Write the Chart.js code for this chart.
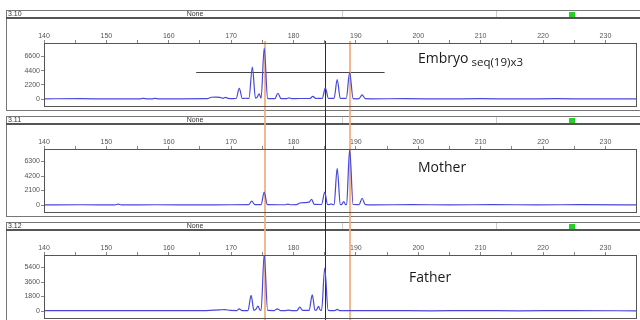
<!DOCTYPE html>
<html>
<head>
<meta charset="utf-8">
<script src="https://cdn.jsdelivr.net/npm/chart.js@4/dist/chart.umd.min.js"></script>
<style>
  body { margin: 0; width: 640px; height: 320px; overflow: hidden; background: #fff; position: relative; }
  canvas { position: absolute; left: 0; }
  .tag { position: absolute; font-family: "Open Sans", "Noto Sans", sans-serif; color: #1a1a1a; font-size: 14px; line-height: 16px; white-space: nowrap; }
  .tag small { font-size: 11.5px; position: relative; top: 3px; margin-left: 3px; }
</style>
</head>
<body>
<canvas id="p1" width="640" height="106" style="top:5px"></canvas>
<canvas id="p2" width="640" height="106" style="top:111px"></canvas>
<canvas id="p3" width="640" height="106" style="top:217px"></canvas>
<div class="tag" style="left:418px;top:50px">Embryo<small>seq(19)x3</small></div>
<div class="tag" style="left:418px;top:159px">Mother</div>
<div class="tag" style="left:409px;top:269px">Father</div>
<script>
// fragment size axis (bp)
const sizeTicks = [140, 145, 150, 155, 160, 165, 170, 175, 180, 185, 190, 195, 200, 205, 210, 215, 220, 225, 230];

// marker lines (bp) and threshold line of the embryo panel
const alleleMarks = [175.4, 189.0];
const refMark = 185.0;
const thresholdSizes = [164.4, 194.6];
const thresholdRfu = 4200;

// 3.10 - Embryo trace
const embryoSizes = [
  140, 146, 150, 155.3, 155.9, 156.5, 157.3, 157.8,
  158.4, 162, 166.2, 166.8, 167.5, 168.2, 168.7, 169.1,
  169.5, 170.4, 170.8, 171.3, 171.8, 172.3, 172.85, 173.4,
  173.9, 174.15, 174.5, 174.8, 175.3, 175.85, 176.3, 177.0,
  177.5, 178.0, 178.9, 179.3, 179.7, 181.0, 182.6, 183.1,
  183.6, 184.1, 184.6, 185.1, 185.6, 186.1, 186.5, 187.0,
  187.5, 188.1, 188.45, 189.0, 189.55, 190.2, 190.5, 191.0,
  191.5, 192.5, 198, 204, 210, 216, 222, 228,
  235
];
const embryoRfu = [
  40, 50, 30, 40, 110, 40, 40, 100,
  40, 40, 60, 280, 300, 260, 120, 260,
  110, 60, 80, 1640, 80, 120, 100, 4950,
  120, 250, 800, 120, 7900, 100, 60, 60,
  900, 60, 50, 180, 50, 80, 80, 400,
  80, 100, 80, 1740, 80, 100, 100, 3030,
  80, 100, 80, 4130, 60, 40, 60, 640,
  60, 40, 50, 30, 50, 30, 50, 30,
  40
];
const embryoTicks = [0, 2200, 4400, 6600];

// 3.11 - Mother trace
const motherSizes = [
  140, 146, 151.4, 151.9, 152.4, 158, 165, 170,
  172.8, 173.3, 173.8, 174.8, 175.3, 175.8, 178.6, 179.1,
  179.6, 180.5, 181.0, 181.8, 182.5, 182.9, 183.3, 184.5,
  185.0, 185.45, 185.7, 186.0, 186.3, 186.5, 187.0, 187.5,
  187.7, 188.05, 188.35, 188.5, 189.0, 189.55, 190.5, 191.0,
  191.5, 193, 199, 205, 212, 219, 226, 235
];
const motherRfu = [
  30, 40, 30, 120, 30, 40, 30, 40,
  50, 560, 50, 60, 1880, 60, 40, 120,
  40, 60, 300, 360, 420, 840, 100, 80,
  1880, 80, 60, 160, 60, 80, 5320, 80,
  60, 500, 60, 80, 8080, 80, 60, 980,
  60, 30, 50, 30, 50, 30, 50, 30
];
const motherTicks = [0, 2100, 4200, 6300];

// 3.12 - Father trace
const fatherSizes = [
  140, 147, 153, 160, 166, 168.2, 169.0, 169.8,
  170.9, 171.3, 171.7, 172.7, 173.2, 173.65, 173.95, 174.3,
  174.6, 174.8, 175.3, 175.85, 176.9, 177.4, 177.9, 178.6,
  179.2, 179.8, 180.55, 181.0, 181.45, 182.5, 183.0, 183.45,
  183.7, 184.0, 184.3, 184.5, 185.0, 185.55, 186.6, 187.0,
  187.4, 189, 195, 202, 209, 216, 224, 235
];
const fatherRfu = [
  40, 60, 40, 50, 60, 150, 180, 80,
  60, 280, 60, 60, 1940, 80, 200, 600,
  150, 80, 7000, 80, 60, 280, 60, 60,
  120, 60, 60, 480, 80, 80, 2000, 80,
  150, 570, 100, 80, 5330, 80, 50, 200,
  50, 40, 50, 30, 50, 30, 50, 30
];
const fatherTicks = [0, 1800, 3600, 5400];

const tickFont = { size: 7, family: '"Liberation Sans", Arial, sans-serif' };

function panelPlugin(cfg) {
  return {
    id: 'panel',
    beforeDraw(chart) {
      const ctx = chart.ctx;
      const w = chart.width, h = chart.height;
      ctx.save();
      // panel box
      ctx.strokeStyle = '#777';
      ctx.lineWidth = 1;
      ctx.beginPath();
      ctx.moveTo(6, 5.5); ctx.lineTo(w, 5.5);
      ctx.moveTo(6.5, 5); ctx.lineTo(6.5, h - 0.5);
      ctx.moveTo(6, h - 0.5); ctx.lineTo(w, h - 0.5);
      ctx.stroke();
      ctx.strokeStyle = '#555';
      ctx.lineWidth = 2;
      ctx.beginPath();
      ctx.moveTo(6, 13); ctx.lineTo(w, 13);
      ctx.stroke();
      // header separators
      ctx.strokeStyle = '#ccc';
      ctx.lineWidth = 1;
      ctx.beginPath();
      ctx.moveTo(342.5, 6); ctx.lineTo(342.5, 12);
      ctx.moveTo(496.5, 6); ctx.lineTo(496.5, 12);
      ctx.stroke();
      // header text
      ctx.fillStyle = '#333';
      ctx.font = '7px "Liberation Sans", Arial, sans-serif';
      ctx.textBaseline = 'middle';
      ctx.textAlign = 'left';
      ctx.fillText(cfg.code, 8, 9.5);
      ctx.textAlign = 'center';
      ctx.fillText('None', 195, 9.5);
      // status square
      ctx.fillStyle = '#27cf27';
      ctx.fillRect(569, 7, 6, 5);
      ctx.restore();
    },
    beforeDatasetsDraw(chart) {
      const ctx = chart.ctx;
      const a = chart.chartArea;
      const xs = chart.scales.x, ys = chart.scales.y;
      ctx.save();
      // threshold line
      if (cfg.threshold) {
        const y = Math.round(ys.getPixelForValue(thresholdRfu)) + 0.5;
        ctx.strokeStyle = '#444';
        ctx.lineWidth = 1;
        ctx.beginPath();
        ctx.moveTo(xs.getPixelForValue(thresholdSizes[0]), y);
        ctx.lineTo(xs.getPixelForValue(thresholdSizes[1]), y);
        ctx.stroke();
      }
      const y0 = cfg.first ? a.top - 2 : 0;
      // allele markers
      ctx.strokeStyle = 'rgba(244,170,120,0.85)';
      ctx.lineWidth = 2;
      alleleMarks.forEach(v => {
        const x = Math.round(xs.getPixelForValue(v));
        ctx.beginPath();
        ctx.moveTo(x, y0); ctx.lineTo(x, chart.height);
        ctx.stroke();
      });
      // reference marker
      ctx.strokeStyle = '#2a2a2a';
      ctx.lineWidth = 1;
      const xr = Math.round(xs.getPixelForValue(refMark)) + 0.5;
      ctx.beginPath();
      ctx.moveTo(xr, y0); ctx.lineTo(xr, chart.height);
      ctx.stroke();
      ctx.restore();
    },
    afterDraw(chart) {
      const ctx = chart.ctx;
      const a = chart.chartArea;
      ctx.save();
      // plot frame
      ctx.strokeStyle = '#555';
      ctx.lineWidth = 1;
      ctx.strokeRect(Math.round(a.left) + 0.5, Math.round(a.top) + 0.5,
        Math.round(a.right - a.left), Math.round(a.bottom - a.top));
      ctx.restore();
    }
  };
}

function makePanel(id, cfg) {
  return new Chart(document.getElementById(id), {
    type: 'line',
    data: {
      datasets: [{
        data: cfg.sizes.map((s, i) => ({ x: s, y: cfg.rfu[i] })),
        borderColor: 'rgb(72,72,218)',
        borderWidth: 1.2,
        pointRadius: 0,
        cubicInterpolationMode: 'monotone',
        fill: false
      }]
    },
    options: {
      responsive: false,
      animation: false,
      events: [],
      layout: { padding: { left: 6, top: 20, right: 4, bottom: 3 } },
      plugins: { legend: { display: false }, tooltip: { enabled: false } },
      scales: {
        x: {
          type: 'linear',
          position: 'top',
          min: 140,
          max: 234.9,
          afterBuildTicks: s => { s.ticks = sizeTicks.map(v => ({ value: v })); },
          afterFit: s => { s.height = 18; },
          ticks: {
            autoSkip: false, maxRotation: 0, padding: 0,
            font: tickFont, color: '#555',
            callback: v => (v % 10 === 0 ? String(v) : '')
          },
          grid: { drawOnChartArea: false, tickLength: 3, color: '#888' },
          border: { color: '#555' }
        },
        y: {
          min: cfg.yMin,
          max: cfg.yMax,
          afterBuildTicks: s => { s.ticks = cfg.yTicks.map(v => ({ value: v })); },
          afterFit: s => { s.width = 38; },
          ticks: { padding: 1, font: tickFont, color: '#555', callback: v => String(v) },
          grid: { drawOnChartArea: false, tickLength: 3, color: '#888' },
          border: { color: '#555' }
        }
      }
    },
    plugins: [panelPlugin(cfg)]
  });
}

makePanel('p1', { code: '3.10', sizes: embryoSizes, rfu: embryoRfu, yTicks: embryoTicks,
  yMin: -1050, yMax: 8700, first: true, threshold: true });
makePanel('p2', { code: '3.11', sizes: motherSizes, rfu: motherRfu, yTicks: motherTicks,
  yMin: -980, yMax: 8120 });
makePanel('p3', { code: '3.12', sizes: fatherSizes, rfu: fatherRfu, yTicks: fatherTicks,
  yMin: -840, yMax: 6960 });
</script>
</body>
</html>
